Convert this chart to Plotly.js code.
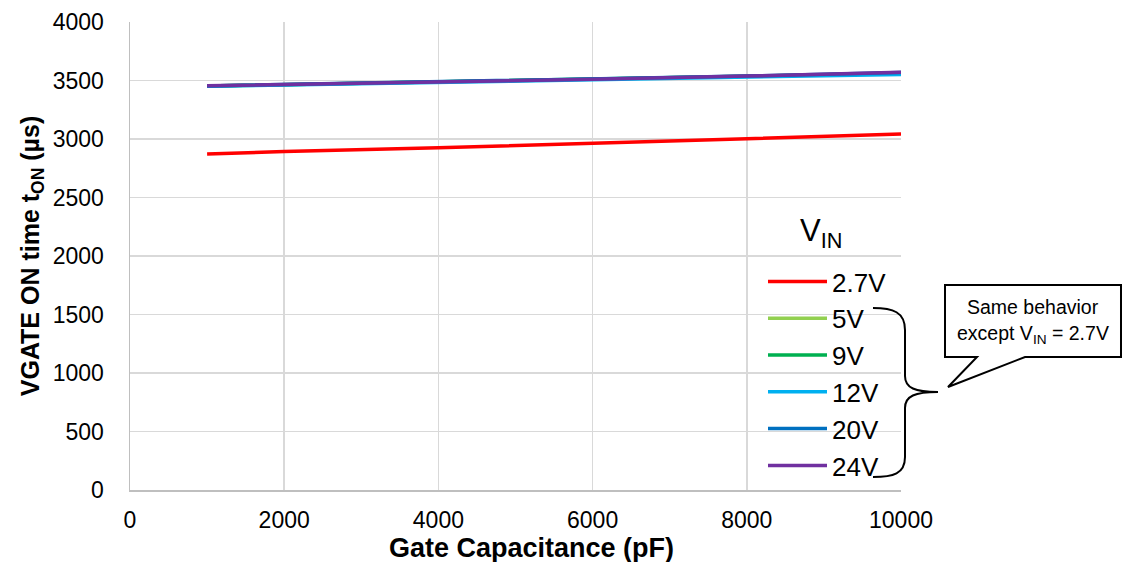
<!DOCTYPE html>
<html>
<head>
<meta charset="utf-8">
<script src="https://cdn.plot.ly/plotly-3.0.1.min.js"></script>
<style>html,body{margin:0;padding:0;background:#fff;}#chart{width:1138px;height:562px;}</style>
</head>
<body>
<div id="chart"></div>
<script>
// Data
const capacitance = [1000, 2000, 4000, 6000, 8000, 10000];
const seriesNames = ['2.7V', '5V', '9V', '12V', '20V', '24V'];
const t27 = [2872, 2893, 2925, 2962, 3000, 3042];
const t5  = [3452, 3464, 3486, 3508, 3536, 3565];
const t9  = [3453, 3464, 3486, 3509, 3537, 3562];
const t12 = [3450, 3462, 3484, 3505, 3530, 3552];
const t20 = [3454, 3465, 3487, 3510, 3538, 3568];
const t24 = [3455, 3465, 3487, 3510, 3538, 3570];
const seriesValues = [t27, t5, t9, t12, t20, t24];
const colors = ['#FF0000', '#92D050', '#00B050', '#00B0F0', '#0070C0', '#7030A0'];
const xTicks = [0, 2000, 4000, 6000, 8000, 10000];
const yTicks = [0, 500, 1000, 1500, 2000, 2500, 3000, 3500, 4000];

const FONT = 'Liberation Sans, Arial, sans-serif';
const L = 130, R = 237, T = 22, B = 72, W = 1138, H = 562;
const pw = W - L - R, ph = H - T - B;
const px = v => (v - L) / pw;
const py = v => (H - B - v) / ph;
function path(cmds) {
  return cmds.map(c => {
    const l = c[0]; const pts = [];
    for (let i = 1; i < c.length; i += 2) pts.push(px(c[i]).toFixed(5) + ',' + py(c[i + 1]).toFixed(5));
    return l + pts.join(' ');
  }).join(' ');
}

const traces = seriesValues.map((vals, i) => ({
  x: capacitance, y: vals, name: seriesNames[i], type: 'scatter', mode: 'lines',
  line: {color: colors[i], width: 3.5}, legendgroup: 'g' + i
}));

const brace = path([
  ['M', 873, 308], ['C', 893, 308, 905, 312, 905, 330], ['L', 905, 376],
  ['C', 905, 388, 915, 392, 938, 392], ['C', 915, 392, 905, 396, 905, 408],
  ['L', 905, 457], ['C', 905, 474, 893, 477, 873, 477]
]);
const callout = path([
  ['M', 945, 285], ['L', 1121, 285], ['L', 1121, 357], ['L', 1025, 357],
  ['L', 948, 387], ['L', 977, 357], ['L', 945, 357]
]) + ' Z';

const layout = {
  width: W, height: H,
  margin: {l: L, r: R, t: T, b: B, pad: 0},
  paper_bgcolor: '#fff', plot_bgcolor: '#fff',
  font: {family: FONT, color: '#000', size: 22},
  showlegend: true,
  xaxis: {
    range: [0, 10000], tickvals: xTicks, ticktext: xTicks.map(String),
    showgrid: true, gridcolor: '#D9D9D9', gridwidth: 1.5,
    showline: true, linecolor: '#BFBFBF', linewidth: 1.5,
    zeroline: false, ticks: '', ticklabelstandoff: 9,
    tickfont: {size: 23, family: FONT}
  },
  yaxis: {
    range: [0, 4000], tickvals: yTicks, ticktext: yTicks.map(String),
    showgrid: true, gridcolor: '#D9D9D9', gridwidth: 1.5,
    showline: true, linecolor: '#BFBFBF', linewidth: 1.5,
    zeroline: false, ticks: '', ticklabelstandoff: 20,
    tickfont: {size: 23, family: FONT},
    title: {text: 'VGATE ON time t<sub>ON</sub> (µs)', font: {size: 25, family: FONT, weight: 'bold'}, standoff: 6}
  },
  legend: {
    x: px(763), y: py(258), xanchor: 'left', yanchor: 'top',
    bgcolor: 'rgba(255,255,255,0)', borderwidth: 0,
    font: {size: 26, family: FONT, color: '#000'},
    tracegroupgap: 3, itemwidth: 59, traceorder: 'normal'
  },
  shapes: [
    {type: 'rect', xref: 'paper', yref: 'paper', layer: 'between',
     x0: px(750), x1: px(893), y0: py(263), y1: py(484), fillcolor: '#fff', line: {width: 0}},
    {type: 'path', xref: 'paper', yref: 'paper', path: brace, line: {color: '#000', width: 2}},
    {type: 'path', xref: 'paper', yref: 'paper', path: callout, fillcolor: '#fff', line: {color: '#000', width: 2}}
  ],
  annotations: [
    {xref: 'paper', yref: 'paper', x: px(531), y: py(548), text: '<b>Gate Capacitance (pF)</b>', showarrow: false,
     font: {size: 27, family: FONT, color: '#000'}, xanchor: 'center', yanchor: 'middle'},
    {xref: 'paper', yref: 'paper', x: px(821), y: py(233), text: 'V<sub>IN</sub>', showarrow: false,
     font: {size: 31, family: FONT, color: '#000'}, xanchor: 'center', yanchor: 'middle'},
    {xref: 'paper', yref: 'paper', x: px(1033), y: py(307), text: 'Same behavior', showarrow: false,
     font: {size: 19.5, family: FONT, color: '#000'}, xanchor: 'center', yanchor: 'middle'},
    {xref: 'paper', yref: 'paper', x: px(1033), y: py(334), text: 'except V<sub>IN</sub> = 2.7V', showarrow: false,
     font: {size: 19.5, family: FONT, color: '#000'}, xanchor: 'center', yanchor: 'middle'}
  ]
};

Plotly.newPlot('chart', traces, layout, {displayModeBar: false, staticPlot: true});
</script>
</body>
</html>
